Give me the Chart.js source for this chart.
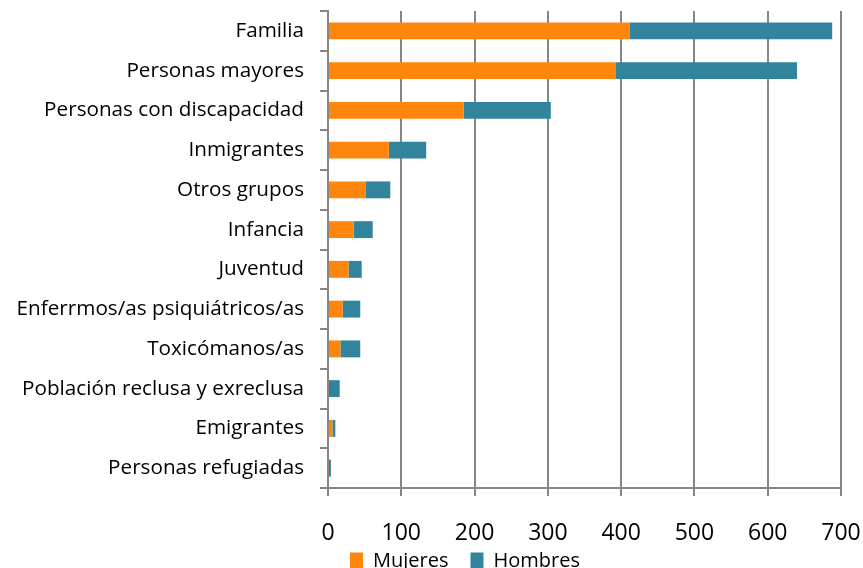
<!DOCTYPE html>
<html>
<head>
<meta charset="utf-8">
<script src="https://cdn.jsdelivr.net/npm/chart.js@4"></script>
<style>
  html, body { margin: 0; padding: 0; background: #fff; overflow: hidden; }
  #wrap { width: 863px; height: 602px; }
</style>
</head>
<body>
<div id="wrap"><canvas id="chart" width="863" height="602"></canvas></div>
<script>
// categorias (de arriba a abajo)
const categorias = [
    'Familia',
    'Personas mayores',
    'Personas con discapacidad',
    'Inmigrantes',
    'Otros grupos',
    'Infancia',
    'Juventud',
    'Enferrmos/as psiquiátricos/as',
    'Toxicómanos/as',
    'Población reclusa y exreclusa',
    'Emigrantes',
    'Personas refugiadas'
];

// valores por serie
const mujeres = [412, 393, 185, 83, 51, 35, 28, 20, 17, 1, 6, 1];
const hombres = [276, 247, 119, 51, 34, 26, 18, 24, 27, 15, 4, 3];

// marcas del eje x
const ticksX = [0, 100, 200, 300, 400, 500, 600, 700];

const gris = '#868686';
const fuente = 'Open Sans';

// la leyenda queda medio cortada por abajo, como en el original
const subirLeyenda = {
    id: 'subirLeyenda',
    afterLayout(chart) {
        chart.legend.top -= 21;
        chart.legend.bottom -= 21;
    }
};

new Chart(document.getElementById('chart').getContext('2d'), {
    type: 'bar',
    data: {
        labels: categorias,
        datasets: [
            {
                label: 'Mujeres',
                data: mujeres,
                backgroundColor: '#ff860d',
                barPercentage: 0.85,
                categoryPercentage: 0.5
            },
            {
                label: 'Hombres',
                data: hombres,
                backgroundColor: '#31849b',
                barPercentage: 0.85,
                categoryPercentage: 0.5
            }
        ]
    },
    plugins: [subirLeyenda],
    options: {
        indexAxis: 'y',
        responsive: false,
        animation: false,
        layout: { padding: { top: 11, left: 8, right: 22, bottom: 0 } },
        plugins: {
            tooltip: { enabled: false },
            legend: {
                position: 'bottom',
                fullSize: false,
                align: 'start',
                labels: {
                    boxWidth: 13,
                    boxHeight: 17,
                    color: '#000',
                    padding: 22,
                    font: { family: fuente, size: 20 }
                }
            }
        },
        scales: {
            x: {
                stacked: true,
                min: 0,
                max: 700,
                afterBuildTicks: scale => {
                    scale.ticks = ticksX.map(v => ({ value: v }));
                },
                afterFit: scale => {
                    scale.height = 62;
                    scale.paddingLeft = 0;
                    scale.paddingRight = 0;
                },
                border: { color: gris, width: 2 },
                grid: {
                    color: gris,
                    lineWidth: 2,
                    tickLength: 8
                },
                ticks: {
                    color: '#000',
                    padding: 24,
                    maxRotation: 0,
                    font: { family: fuente, size: 23 }
                }
            },
            y: {
                stacked: true,
                afterFit: scale => {
                    scale.width = 320;
                    scale.paddingTop = 0;
                    scale.paddingBottom = 0;
                },
                border: { color: gris, width: 2 },
                grid: {
                    offset: true,
                    drawOnChartArea: false,
                    color: gris,
                    lineWidth: 2,
                    tickLength: 8
                },
                ticks: {
                    color: '#000',
                    padding: 16,
                    autoSkip: false,
                    font: { family: fuente, size: 20.7 }
                }
            }
        }
    }
});
</script>
</body>
</html>
